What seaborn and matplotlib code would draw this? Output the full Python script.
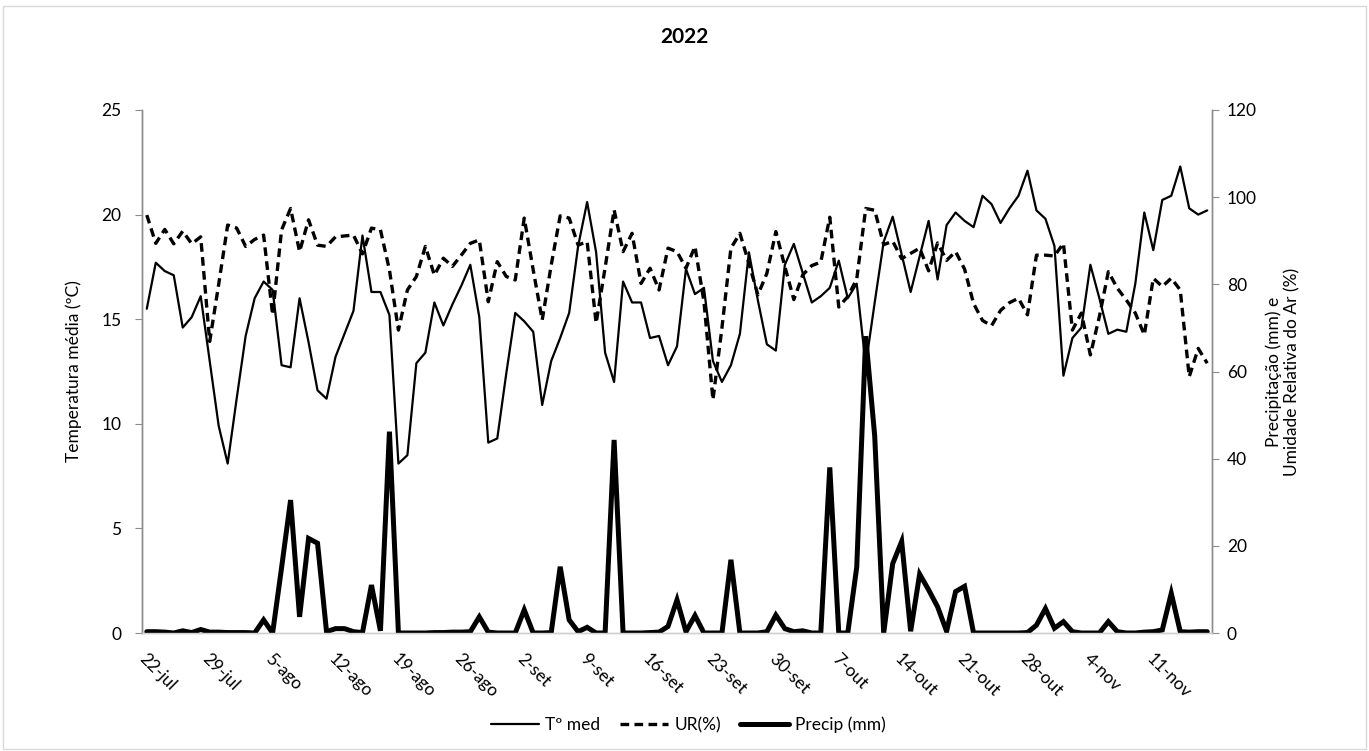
import matplotlib
matplotlib.use("Agg")
import matplotlib.pyplot as plt
import matplotlib.patches as mpatches
import numpy as np
import pandas as pd
import seaborn as sns

# ---------------- data ----------------
start_date = "2022-07-22"
n_days = 119

temp_med = [15.5, 17.7, 17.3, 17.1, 14.6, 15.1, 16.1, 13.0, 9.9, 8.1,
            11.2, 14.2, 16.0, 16.8, 16.4, 12.8, 12.7, 16.0, 13.9, 11.6,
            11.2, 13.2, 14.3, 15.4, 19.0, 16.3, 16.3, 15.2, 8.1, 8.5,
            12.9, 13.4, 15.8, 14.7, 15.7, 16.6, 17.6, 15.1, 9.1, 9.3,
            12.4, 15.3, 14.9, 14.4, 10.9, 13.0, 14.1, 15.3, 18.5, 20.6,
            18.2, 13.4, 12.0, 16.8, 15.8, 15.8, 14.1, 14.2, 12.8, 13.7,
            17.4, 16.2, 16.5, 13.0, 12.0, 12.8, 14.3, 18.2, 15.9, 13.8,
            13.5, 17.6, 18.6, 17.2, 15.8, 16.1, 16.5, 17.8, 16.0, 16.7,
            12.8, 15.8, 18.7, 19.9, 18.1, 16.3, 18.0, 19.7, 16.9, 19.5,
            20.1, 19.7, 19.4, 20.9, 20.5, 19.6, 20.3, 20.9, 22.1, 20.2,
            19.8, 18.5, 12.3, 14.1, 14.6, 17.6, 16.0, 14.3, 14.5, 14.4,
            16.7, 20.1, 18.3, 20.7, 20.9, 22.3, 20.3, 20.0, 20.2]

ur = [95.9, 89.4, 92.6, 89.3, 92.2, 89.3, 90.9, 66.9, 80.0, 93.6,
      92.9, 88.7, 90.3, 91.3, 73.0, 92.5, 97.4, 87.5, 94.8, 89.0,
      88.7, 90.9, 91.1, 91.3, 87.0, 92.9, 92.5, 83.3, 69.5, 78.7,
      81.8, 88.7, 82.1, 86.0, 84.1, 86.7, 89.4, 90.2, 76.0, 85.2,
      81.8, 81.0, 95.2, 83.3, 71.8, 84.4, 95.7, 95.2, 89.0, 89.8,
      71.1, 83.8, 97.1, 87.5, 91.7, 80.2, 83.7, 78.7, 88.3, 87.5,
      83.7, 88.7, 76.0, 53.5, 70.0, 88.3, 91.7, 84.8, 77.6, 82.5,
      92.1, 84.1, 76.5, 82.2, 84.3, 85.1, 95.4, 74.8, 77.2, 81.2,
      97.4, 97.0, 89.1, 89.9, 85.9, 87.1, 88.3, 83.1, 89.5, 85.5,
      87.5, 83.5, 75.6, 71.7, 70.5, 74.0, 75.8, 76.8, 73.0, 86.7,
      86.7, 86.5, 89.4, 69.5, 73.4, 63.8, 72.6, 82.9, 79.1, 76.4,
      73.4, 68.4, 81.4, 79.5, 81.4, 78.7, 58.8, 65.3, 61.9]

precip = [0.3, 0.3, 0.2, 0.0, 0.5, 0.1, 0.8, 0.2, 0.2, 0.1,
          0.1, 0.1, 0.0, 3.0, 0.0, 15.0, 30.5, 3.7, 21.7, 20.6,
          0.3, 1.0, 1.0, 0.3, 0.1, 11.0, 0.5, 46.2, 0.0, 0.0,
          0.0, 0.0, 0.1, 0.1, 0.2, 0.2, 0.3, 3.7, 0.2, 0.0,
          0.0, 0.0, 5.3, 0.0, 0.0, 0.1, 15.2, 3.0, 0.3, 1.3,
          0.0, 0.0, 44.3, 0.0, 0.0, 0.0, 0.1, 0.2, 1.5, 7.6,
          0.3, 4.0, 0.0, 0.0, 0.0, 16.8, 0.0, 0.0, 0.0, 0.3,
          4.1, 1.0, 0.3, 0.5, 0.0, 0.0, 38.0, 0.0, 0.0, 15.1,
          68.1, 45.2, 0.0, 15.9, 21.0, 0.4, 13.5, 9.9, 6.0, 0.4,
          9.5, 10.7, 0.0, 0.0, 0.0, 0.0, 0.0, 0.0, 0.1, 1.8,
          5.6, 1.1, 2.6, 0.3, 0.0, 0.0, 0.0, 2.6, 0.3, 0.0,
          0.0, 0.2, 0.3, 0.7, 9.1, 0.3, 0.2, 0.3, 0.3]

tick_labels = ["22-jul", "29-jul", "5-ago", "12-ago", "19-ago", "26-ago",
               "2-set", "9-set", "16-set", "23-set", "30-set", "7-out",
               "14-out", "21-out", "28-out", "4-nov", "11-nov"]

left_ticks = [0, 5, 10, 15, 20, 25]
right_ticks = [0, 20, 40, 60, 80, 100, 120]

title = "2022"
ylabel_left = "Temperatura média (ºC)"
ylabel_right = "Precipitação (mm) e\nUmidade Relativa do Ar (%)"
legend_labels = ["Tº med", "UR(%)", "Precip (mm)"]

# ---------------- table ----------------
dates = pd.date_range(start_date, periods=n_days, freq="D")
df = pd.DataFrame({"data": dates, "temp": temp_med, "ur": ur, "precip": precip})

# ---------------- style ----------------
sns.set_theme(style="white")
plt.rcParams["font.family"] = ["Lato", "DejaVu Sans"]
TXT = "#000000"
FS = 12.5

fig = plt.figure(figsize=(13.69, 7.51), dpi=100)
ax = fig.add_axes([142.3 / 1369, 1 - 633 / 751, (1211.7 - 142.3) / 1369, (633 - 110) / 751])
ax2 = ax.twinx()

sns.lineplot(data=df, x="data", y="temp", ax=ax, color="black", linewidth=1.6,
             label=legend_labels[0], legend=False)
sns.lineplot(data=df, x="data", y="ur", ax=ax2, color="black", linewidth=2.4,
             linestyle=(0, (2.6, 1.6)), label=legend_labels[1], legend=False)
sns.lineplot(data=df, x="data", y="precip", ax=ax2, color="black", linewidth=3.6,
             label=legend_labels[2], legend=False, solid_joinstyle="miter")

# x axis: slots of one day, ticks on slot boundaries every 7 days
half = pd.Timedelta(hours=12)
ax.set_xlim(dates[0] - half, dates[-1] + half)
tick_pos = [dates[0] - half + pd.Timedelta(days=7 * k) for k in range(len(tick_labels))]
ax.set_xticks(tick_pos)
ax.set_xticklabels(tick_labels, rotation=-45, ha="left", va="center",
                   rotation_mode="anchor", fontsize=FS, color=TXT)
ax.tick_params(axis="x", direction="out", length=5, width=0.8, color="#d0d0d0", pad=12)

ax.set_ylim(0, 25)
ax.set_yticks(left_ticks)
ax.set_yticklabels([str(t) for t in left_ticks], fontsize=FS, color=TXT)
ax.tick_params(axis="y", direction="out", length=5, width=0.8, color="#8c8c8c", pad=10)

ax2.set_ylim(0, 120)
ax2.set_yticks(right_ticks)
ax2.set_yticklabels([str(t) for t in right_ticks], fontsize=FS, color=TXT)
ax2.tick_params(axis="y", direction="out", length=5, width=0.8, color="#8c8c8c", pad=6)

ax.set_xlabel("")
ax.set_ylabel(ylabel_left, fontsize=FS, color=TXT, labelpad=14)
ax2.set_ylabel(ylabel_right, fontsize=FS, color=TXT, labelpad=6, linespacing=1.15)

for a in (ax, ax2):
    a.spines["top"].set_visible(False)
    a.spines["left"].set_color("#8c8c8c")
    a.spines["right"].set_color("#8c8c8c")
    a.spines["bottom"].set_color("#d0d0d0")
    for s in ("left", "right", "bottom"):
        a.spines[s].set_linewidth(1.0)
    a.grid(False)
ax.patch.set_alpha(0)

fig.suptitle(title, x=0.5, y=1 - 37 / 751, va="center", fontsize=15,
             fontweight="bold", color=TXT)

handles = ax.get_lines() + ax2.get_lines()
fig.legend(handles, legend_labels, loc="center", bbox_to_anchor=(688 / 1369, 1 - 725 / 751),
           ncol=3, frameon=False, fontsize=FS, handlelength=2.8, handletextpad=0.35,
           columnspacing=1.1, labelcolor=TXT)

fig.patches.append(mpatches.Rectangle((0.002, 0.002), 0.996, 0.990, transform=fig.transFigure,
                                      fill=False, edgecolor="#d9d9d9", linewidth=1.0))

fig.savefig("out.png", dpi=100)
